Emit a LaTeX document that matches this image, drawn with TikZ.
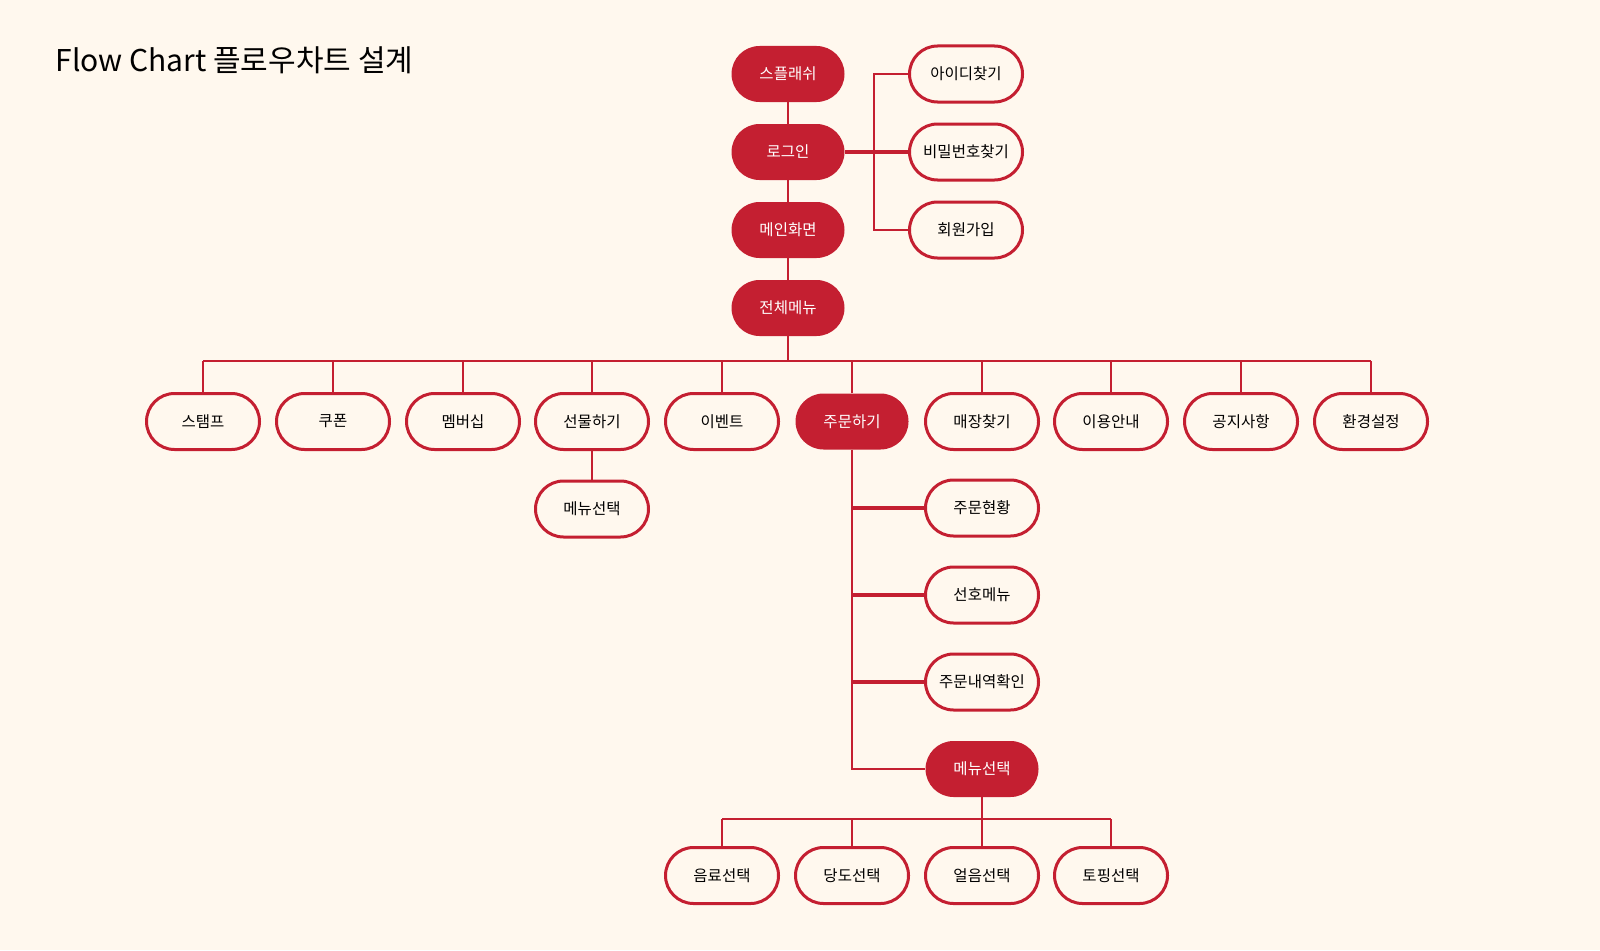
\documentclass[tikz,border=0pt]{standalone}
\usepackage{fontspec}
\setmainfont{Noto Sans CJK KR}
\definecolor{brandred}{HTML}{C41F31}
\definecolor{paper}{HTML}{FFF8EE}
\tikzset{
    box/.style={rectangle, rounded corners=28pt, minimum width=113pt, minimum height=56pt,
                inner sep=0pt, font=\fontsize{15.5}{18}\selectfont},
    filledbox/.style={box, fill=brandred, text=white},
    linebox/.style={box, draw=brandred, line width=3pt, fill=paper, text=black},
    link/.style={draw=brandred, line width=2pt},
    thicklink/.style={draw=brandred, line width=4pt}
}
\begin{document}
\begin{tikzpicture}[x=1pt, y=-1pt]
                \fill[paper] (0,0) rectangle (1600,950) ;
                \useasboundingbox (0,0) rectangle (1600,950) ;
                \node[anchor=base west, font=\fontsize{30}{36}\selectfont] (title) at (52,71) {Flow Chart 플로우차트 설계} ;
                % main column
                \node[filledbox] (splash) at (788,74) {스플래쉬} ;
                \node[filledbox] (login) at (788,152) {로그인} ;
                \node[filledbox] (home) at (788,230) {메인화면} ;
                \node[filledbox] (allmenu) at (788,308) {전체메뉴} ;
                \node[linebox] (findid) at (966,74) {아이디찾기} ;
                \node[linebox] (findpw) at (966,152) {비밀번호찾기} ;
                \node[linebox] (join) at (966,230) {회원가입} ;
                % menu row
                \node[linebox] (stamp) at (203,421.5) {스탬프} ;
                \node[linebox] (coupon) at (333,421.5) {쿠폰} ;
                \node[linebox] (member) at (463,421.5) {멤버십} ;
                \node[linebox] (gift) at (592,421.5) {선물하기} ;
                \node[linebox] (event) at (722,421.5) {이벤트} ;
                \node[filledbox] (order) at (852,421.5) {주문하기} ;
                \node[linebox] (store) at (982,421.5) {매장찾기} ;
                \node[linebox] (guide) at (1111,421.5) {이용안내} ;
                \node[linebox] (notice) at (1241,421.5) {공지사항} ;
                \node[linebox] (setting) at (1371,421.5) {환경설정} ;
                \node[linebox] (giftmenu) at (592,509) {메뉴선택} ;
                % order branch
                \node[linebox] (status) at (982,508) {주문현황} ;
                \node[linebox] (favorite) at (982,595) {선호메뉴} ;
                \node[linebox] (history) at (982,682) {주문내역확인} ;
                \node[filledbox] (ordermenu) at (982,769) {메뉴선택} ;
                \node[linebox] (drink) at (722,875.5) {음료선택} ;
                \node[linebox] (sugar) at (852,875.5) {당도선택} ;
                \node[linebox] (ice) at (982,875.5) {얼음선택} ;
                \node[linebox] (topping) at (1111,875.5) {토핑선택} ;
                \coordinate (menubus) at (788,361) ;
                \coordinate (optbus) at (982,818.5) ;
                % connectors
                \draw[link] (splash) -- (login) ;
                \draw[link] (login) -- (home) ;
                \draw[link] (home) -- (allmenu) ;
                \draw[thicklink] (login.east) -- (findpw.west) ;
                \draw[link] (findid.west) -- ++(-34,0) |- (join.west) ;
                \draw[link] (allmenu.south) -- (menubus) ;
                \draw[link] (stamp.north |- menubus) -- (setting.north |- menubus) ;
                \foreach \n in {stamp,coupon,member,gift,event,order,store,guide,notice,setting}
                    \draw[link] (\n.north) -- (\n.north |- menubus) ;
                \draw[link] (gift) -- (giftmenu) ;
                \draw[link] (order.south) |- (ordermenu.west) ;
                \foreach \n in {status,favorite,history}
                    \draw[thicklink] (order.south |- \n.west) -- (\n.west) ;
                \draw[link] (ordermenu.south) -- (optbus) ;
                \draw[link] (drink.north |- optbus) -- (topping.north |- optbus) ;
                \foreach \n in {drink,sugar,ice,topping}
                    \draw[link] (\n.north) -- (\n.north |- optbus) ;
            \end{tikzpicture}
\end{document}
